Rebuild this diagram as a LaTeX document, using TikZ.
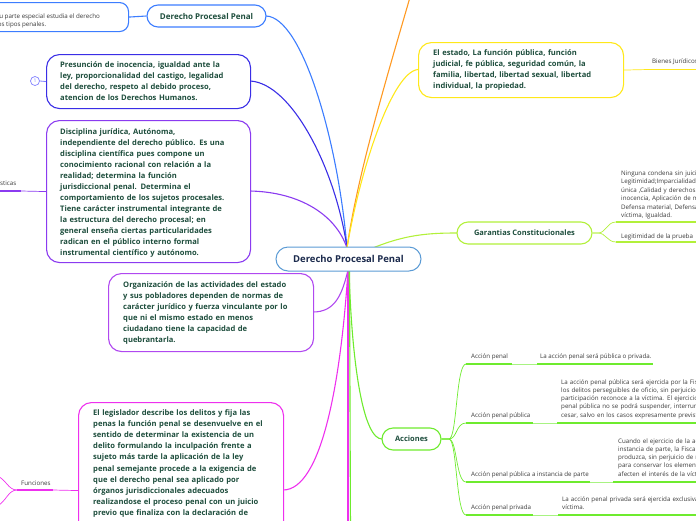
\documentclass[tikz,border=0pt]{standalone}
\usepackage{fontspec}
\setmainfont{Open Sans}
\definecolor{cblue}{HTML}{3C7DFF}
\definecolor{cindigo}{HTML}{3A2EE6}
\definecolor{cviolet}{HTML}{8B3BF0}
\definecolor{cpurple}{HTML}{B048F0}
\definecolor{cmagenta}{HTML}{EE30EE}
\definecolor{corange}{HTML}{FF9922}
\definecolor{cyellow}{HTML}{FFE81A}
\definecolor{clime}{HTML}{B2F03A}
\definecolor{cgreen}{HTML}{6EEB2E}
\definecolor{chub}{HTML}{5B9BD5}
\definecolor{ccirc}{HTML}{8080FF}
\definecolor{tgreen}{HTML}{1D4D3C}
\definecolor{tnavy}{HTML}{1C2B4D}
\definecolor{tgray}{HTML}{3A3A3A}
\begin{document}
\begin{tikzpicture}[x=1pt,y=-1pt,
  conn/.style={line width=1.1pt},
  bigbox/.style={draw, line width=1.1pt, rounded corners=13pt, fill=white, inner sep=0, anchor=north west},
  pill/.style={draw, line width=1.1pt, rounded corners=11pt, fill=white, inner sep=0, text=tgreen, font=\bfseries\fontsize{7.5}{9}\selectfont},
  boxtext/.style={anchor=base west, inner sep=0, text width=200pt, align=left, text=tgreen, font=\bfseries\fontsize{7.6}{11}\selectfont},
  small/.style={anchor=base west, inner sep=0, text=tgray, font=\fontsize{6.2}{8.4}\selectfont},
  smallblock/.style={small, text width=300pt, align=left},
  thickul/.style={line width=1.6pt},
  thinul/.style={line width=0.7pt},
]
\useasboundingbox (0,0) rectangle (696,520);
\clip (0,0) rectangle (696,520);

% ---------- coordinates for free ends and hub contacts
\coordinate (offtop) at (415,-20);
\coordinate (offbotA) at (348,530);
\coordinate (offbotB) at (350.5,530);
\coordinate (hubN) at (347,248);
\coordinate (hubS) at (348,270);
\coordinate (hubC) at (348.5,259);

% ---------- connectors
\draw[conn, cblue] (266,16) coordinate (dppE) .. controls (302,17) and (338,140) .. (hubN);
\draw[conn, cindigo] (250,81) coordinate (presE) .. controls (292,83) and (336,170) .. (hubN);
\draw[conn, cviolet] (250,191) coordinate (discE) .. controls (300,192) and (336,215) .. (hubN);
\draw[conn, corange] (hubN) .. controls (358,170) and (392,60) .. (offtop);
\draw[conn, cyellow] (hubN) .. controls (360,170) and (392,72) .. (418,69.5) coordinate (estW);
\draw[conn, clime] (hubC) .. controls (395,236) and (420,233) .. (457,233) coordinate (garW);
\draw[conn, cpurple] (hubS) .. controls (342,295) and (335,312) .. (313,312) coordinate (orgE);
\draw[conn, cmagenta] (hubS) .. controls (341,380) and (322,490) .. (283,490) coordinate (legisE);
\draw[conn, cmagenta] (hubS) -- (offbotA);
\draw[conn, cgreen] ([xshift=1.5pt]hubS) -- (offbotB);
\draw[conn, cgreen] ([xshift=1pt]hubS) .. controls (352,370) and (364,439) .. (382,439) coordinate (accW);

% ---------- nodes
\node[draw=chub, line width=1pt, rounded corners=12pt, fill=white, minimum width=145pt, minimum height=24pt, inner sep=0, text=tnavy, font=\bfseries\fontsize{9.5}{11}\selectfont] (hub) at (hubC) {Derecho Procesal Penal};

\node[pill, draw=cblue, minimum width=119pt, minimum height=22pt, font=\bfseries\fontsize{8}{9}\selectfont] (dpp) at (206.5,16) {Derecho Procesal Penal};
\node[bigbox, draw=cblue, rounded corners=9pt, minimum width=150pt, minimum height=29pt] (tlbox) at (-22,2) {};
\draw[conn, cblue] (tlbox.east) -- (dpp.west);
\node[anchor=base east, inner sep=0, text=tgray, font=\fontsize{6.2}{8.4}\selectfont] (tl1) at (100,18) {penal en su parte especial estudia el derecho};
\node[anchor=base east, inner sep=0, text=tgray, font=\fontsize{6.2}{8.4}\selectfont] (tl2) at (46.5,26) {penal de los tipos penales.};

\node[bigbox, draw=cindigo, minimum width=204pt, minimum height=54pt] (presbox) at (46,54) {};
\node[boxtext] (pres) at (60,67.5) {Presunción de inocencia, igualdad ante la\\ley, proporcionalidad del castigo, legalidad\\del derecho, respeto al debido proceso,\\atencion de los Derechos Humanos.};
\node[circle, draw=ccirc, line width=0.7pt, minimum size=9pt, inner sep=0, fill=white, text=ccirc, font=\fontsize{5}{5}\selectfont] (one) at (35,81) {1};
\draw[line width=0.8pt, ccirc] (one.east) -- (presbox.west);

\node[bigbox, draw=cviolet, minimum width=204pt, minimum height=142pt] (discbox) at (46,120) {};
\node[boxtext] (disc) at (60,134.5) {Disciplina jurídica, Autónoma,\\independiente del derecho público. Es una\\disciplina científica pues compone un\\conocimiento racional con relación a la\\realidad; determina la función\\jurisdiccional penal. Determina el\\comportamiento de los sujetos procesales.\\Tiene carácter instrumental integrante de\\la estructura del derecho procesal; en\\general enseña ciertas particularidades\\radican en el público interno formal\\instrumental científico y autónomo.};
\draw[thinul, cviolet] (discbox.west) -- (21,191);
\draw[thickul, cviolet] (21,191) -- (-5,191);
\node[anchor=base east, inner sep=0, text=tgray, font=\fontsize{6.2}{8.4}\selectfont] (carac) at (16.5,185.5) {Características};

\node[bigbox, draw=cpurple, minimum width=205pt, minimum height=78pt] (orgbox) at (108,273) {};
\node[boxtext] (org) at (123,287.5) {Organización de las actividades del estado\\y sus pobladores dependen de normas de\\carácter jurídico y fuerza vinculante por lo\\que ni el mismo estado en menos\\ciudadano tiene la capacidad de\\quebrantarla.};

\node[bigbox, draw=cmagenta, minimum width=205pt, minimum height=176pt] (legisbox) at (78,402) {};
\node[boxtext, font=\bfseries\fontsize{7.6}{11.1}\selectfont] (legis) at (93,415.5) {El legislador describe los delitos y fija las\\penas la función penal se desenvuelve en el\\sentido de determinar la existencia de un\\delito formulando la inculpación frente a\\sujeto más tarde la aplicación de la ley\\penal semejante procede a la exigencia de\\que el derecho penal sea aplicado por\\órganos jurisdiccionales adecuados\\realizandose el proceso penal con un juicio\\previo que finaliza con la declaración de};
\draw[thinul, cmagenta] (legisbox.west) -- (53,490);
\draw[thickul, cmagenta] (53,490) -- (17,490);
\draw[thinul, cmagenta] (17,490) .. controls (8,490) and (6,479) .. (-3,476);
\draw[thinul, cmagenta] (17,490) .. controls (8,490) and (6,502) .. (-3,506);
\node[small] (func) at (21,485.5) {Funciones};

\node[bigbox, draw=cyellow, minimum width=205pt, minimum height=55pt] (estbox) at (418,42) {};
\node[boxtext] (est) at (433,55.5) {El estado, La función pública, función\\judicial, fe pública, seguridad común, la\\familia, libertad, libertad sexual, libertad\\individual, la propiedad.};
\draw[thinul, cyellow] (estbox.east) -- (648,69.5);
\draw[thickul, cyellow] (648,69.5) -- (700,69.5);
\node[small] (bienes) at (652,63.5) {Bienes Jurídicos};

\node[pill, draw=clime, minimum width=135pt, minimum height=22pt] (gar) at (524.5,233) {Garantias Constitucionales};
\draw[thinul, clime] (gar.east) -- (598,233) .. controls (606,233) and (607,222) .. (616,222);
\draw[thinul, clime] (gar.east) -- (598,233) .. controls (606,233) and (607,242) .. (616,242);
\draw[thickul, clime] (616,222) -- (700,222);
\draw[thickul, clime] (616,242) -- (700,242);
\node[smallblock] (ning) at (621,175.5) {Ninguna condena sin juicio previo,\\Legitimidad;Imparcialidad, Persecución penal\\única ,Calidad y derechos del imputado, Presunción de\\inocencia, Aplicación de medidas cautelares,\\Defensa material, Defensa técnica, Derechos de la\\víctima, Igualdad.};
\node[small] (legit) at (621,238) {Legitimidad de la prueba};

\node[pill, draw=cgreen, minimum width=59pt, minimum height=22pt] (acc) at (411.5,439) {Acciones};
\foreach \y/\a/\b/\c in {364/512/537/653, 423/533/557/700, 482/590/613/700, 515/533/558/700} {
  \draw[thinul, cgreen] (acc.east) -- (449,439) .. controls (457,439) and (456,\y) .. (466,\y);
  \draw[thickul, cgreen] (466,\y) -- (\a,\y);
  \draw[thinul, cgreen!60] (\a,\y) -- (\b,\y);
  \draw[thickul, cgreen] (\b,\y) -- (\c,\y);
}
\node[small] (ap) at (471,358) {Acción penal};
\node[small] (apt) at (540,358) {La acción penal será pública o privada.};
\node[small] (app) at (471,417) {Acción penal pública};
\node[smallblock, font=\fontsize{6.2}{8.25}\selectfont] (appt) at (561,384) {La acción penal pública será ejercida por la Fiscalía, en\\los delitos perseguibles de oficio, sin perjuicio de la\\participación reconoce a la víctima. El ejercicio de la acción\\penal pública no se podrá suspender, interrumpir o hacer\\cesar, salvo en los casos expresamente previstos por la ley.};
\node[small] (api) at (471,476) {Acción penal pública a instancia de parte};
\node[smallblock, font=\fontsize{6.2}{8.25}\selectfont] (apit) at (618,443) {Cuando el ejercicio de la acción penal pública requiera\\instancia de parte, la Fiscalía sólo la ejercerá una vez que se\\produzca, sin perjuicio de realizar los actos imprescindibles\\para conservar los elementos de prueba, siempre que no\\afecten el interés de la víctima.};
\node[small] (apv) at (471,509) {Acción penal privada};
\node[smallblock] (apvt) at (562,501) {La acción penal privada será ejercida exclusivamente por la\\víctima.};
\end{tikzpicture}
\end{document}
